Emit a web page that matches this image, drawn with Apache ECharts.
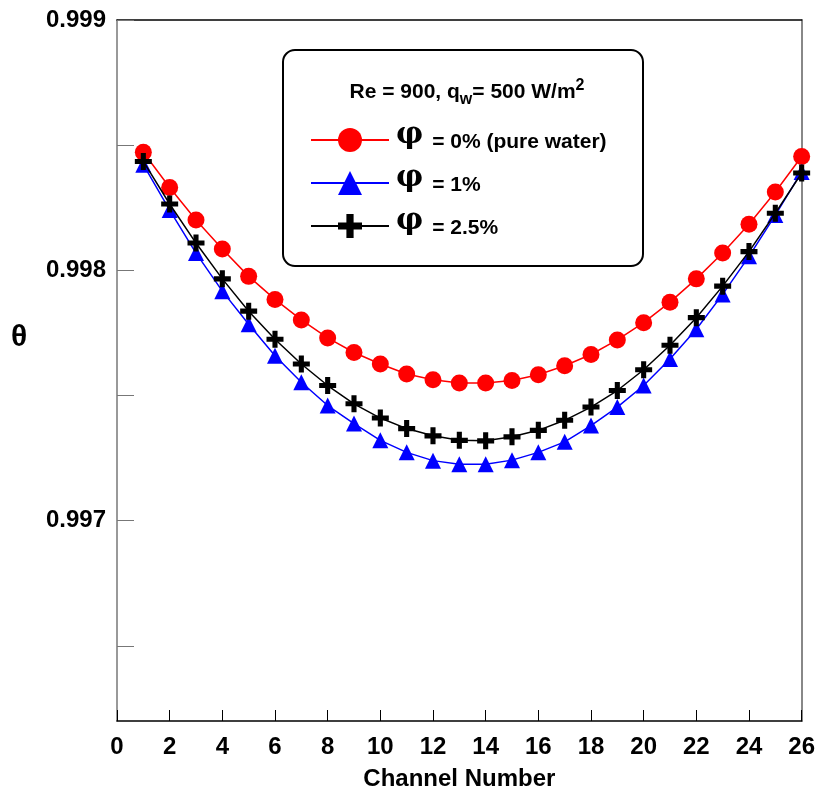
<!DOCTYPE html>
<html>
<head>
<meta charset="utf-8">
<script src="https://cdn.jsdelivr.net/npm/echarts@6/dist/echarts.min.js"></script>
<style>
html,body{margin:0;padding:0;background:#fff;}
#chart{width:818px;height:796px;}
</style>
</head>
<body>
<div id="chart"></div>
<script>
const channels = [1,2,3,4,5,6,7,8,9,10,11,12,13,14,15,16,17,18,19,20,21,22,23,24,25,26];
const pureWater = [0.998472,0.998331,0.998201,0.998085,0.997976,0.997884,0.997802,0.997730,0.997672,0.997626,0.997586,0.997563,0.997550,0.997550,0.997560,0.997583,0.997619,0.997664,0.997722,0.997791,0.997873,0.997966,0.998069,0.998184,0.998313,0.998455];
const phi1 = [0.998422,0.998241,0.998069,0.997917,0.997785,0.997659,0.997553,0.997460,0.997388,0.997321,0.997273,0.997240,0.997226,0.997226,0.997242,0.997273,0.997315,0.997380,0.997454,0.997540,0.997646,0.997765,0.997904,0.998056,0.998221,0.998393];
const phi25 = [0.998435,0.998265,0.998109,0.997966,0.997837,0.997725,0.997626,0.997540,0.997467,0.997410,0.997368,0.997339,0.997321,0.997319,0.997335,0.997361,0.997401,0.997454,0.997520,0.997603,0.997701,0.997811,0.997937,0.998075,0.998228,0.998389];
const seriesNames = ['= 0% (pure water)', '= 1%', '= 2.5%'];
const yLabelValues = [0.997, 0.998, 0.999];
const yTickValues = [0.9965, 0.997, 0.9975, 0.998, 0.9985, 0.999];

const FONT = 'Liberation Sans, Arial, Helvetica, sans-serif';
const crossPath = 'path://M7,0H13V7H20V13H13V20H7V13H0V7H7Z';

function pairs(vals){ return channels.map((c,i)=>[c, vals[i]]); }

const chart = echarts.init(document.getElementById('chart'), null, {renderer:'canvas'});
chart.setOption({
  animation:false,
  backgroundColor:'#fff',
  grid:{left:117, top:20, right:15, bottom:73, containLabel:false},
  xAxis:[{
    type:'value', min:0, max:26, interval:2,
    axisLine:{show:true, onZero:false, lineStyle:{color:'#000', width:1.5}},
    axisTick:{show:true, inside:true, length:11, lineStyle:{color:'#000', width:1}},
    axisLabel:{fontFamily:FONT, fontWeight:'bold', fontSize:24, color:'#000', margin:14},
    splitLine:{show:false},
    name:'Channel Number', nameLocation:'middle', nameGap:46,
    nameTextStyle:{fontFamily:FONT, fontWeight:'bold', fontSize:24, color:'#000'}
  },{
    type:'value', min:0, max:26, position:'top',
    axisLine:{show:true, onZero:false, lineStyle:{color:'#000', width:1.5}},
    axisTick:{show:false}, axisLabel:{show:false}, splitLine:{show:false}
  }],
  yAxis:[{
    type:'value', min:0.9962, max:0.999,
    axisLine:{show:true, onZero:false, lineStyle:{color:'#777', width:1.5}},
    axisTick:{show:true, inside:true, length:17, customValues:yTickValues, lineStyle:{color:'#777', width:1}},
    axisLabel:{fontFamily:FONT, fontWeight:'bold', fontSize:24, color:'#000', margin:11,
      customValues:yLabelValues, formatter:v=>v.toFixed(3)},
    splitLine:{show:false}
  },{
    type:'value', min:0.9962, max:0.999, position:'right',
    axisLine:{show:true, onZero:false, lineStyle:{color:'#888', width:2}},
    axisTick:{show:false}, axisLabel:{show:false}, splitLine:{show:false}
  }],
  legend:{
    show:true, orient:'vertical', left:310, top:120, z:5, padding:0,
    itemWidth:78, itemHeight:30, itemGap:3,
    data:seriesNames,
    formatter:name=>'{p|φ}{t|'+name+'}',
    textStyle:{
      rich:{
        p:{fontFamily:'DejaVu Serif, Liberation Serif, serif', fontWeight:'bold', fontSize:30, lineHeight:20, color:'#000', padding:[0,9,10,2]},
        t:{fontFamily:FONT, fontWeight:'bold', fontSize:21, lineHeight:20, color:'#000', padding:[5,0,0,0]}
      }
    }
  },
  graphic:[
    {type:'rect', z:1, shape:{x:283, y:50, width:360, height:216, r:12},
     style:{fill:'#fff', stroke:'#000', lineWidth:2}},
    {type:'text', z:6, x:467, y:92,
     style:{text:'{a|Re = 900, q}{s|w}{a|= 500 W/m}{u|2}', verticalAlign:'middle', align:'center',
       rich:{
         a:{fontFamily:FONT, fontWeight:'bold', fontSize:21, color:'#000', lineHeight:36, verticalAlign:'middle'},
         s:{fontFamily:FONT, fontWeight:'bold', fontSize:16, color:'#000', lineHeight:36, verticalAlign:'bottom', padding:[0,0,2,0]},
         u:{fontFamily:FONT, fontWeight:'bold', fontSize:16, color:'#000', lineHeight:36, verticalAlign:'top', padding:[4,0,0,0]}
       }}},
    {type:'text', z:6, x:19, y:338,
     style:{text:'θ', fontFamily:FONT, fontWeight:'bold', fontSize:30, fill:'#000', align:'center', verticalAlign:'middle'}}
  ],
  series:[
    {name:seriesNames[0], type:'line', data:pairs(pureWater), symbol:'circle', symbolSize:17,
     lineStyle:{color:'#ff0000', width:1.5}, itemStyle:{color:'#ff0000'}, z:2},
    {name:seriesNames[1], type:'line', data:pairs(phi1), symbol:'triangle', symbolSize:16,
     lineStyle:{color:'#0000ff', width:1.5}, itemStyle:{color:'#0000ff'}, z:3},
    {name:seriesNames[2], type:'line', data:pairs(phi25), symbol:crossPath, symbolSize:17,
     lineStyle:{color:'#000', width:1.5}, itemStyle:{color:'#000'}, z:4}
  ]
});
</script>
</body>
</html>
